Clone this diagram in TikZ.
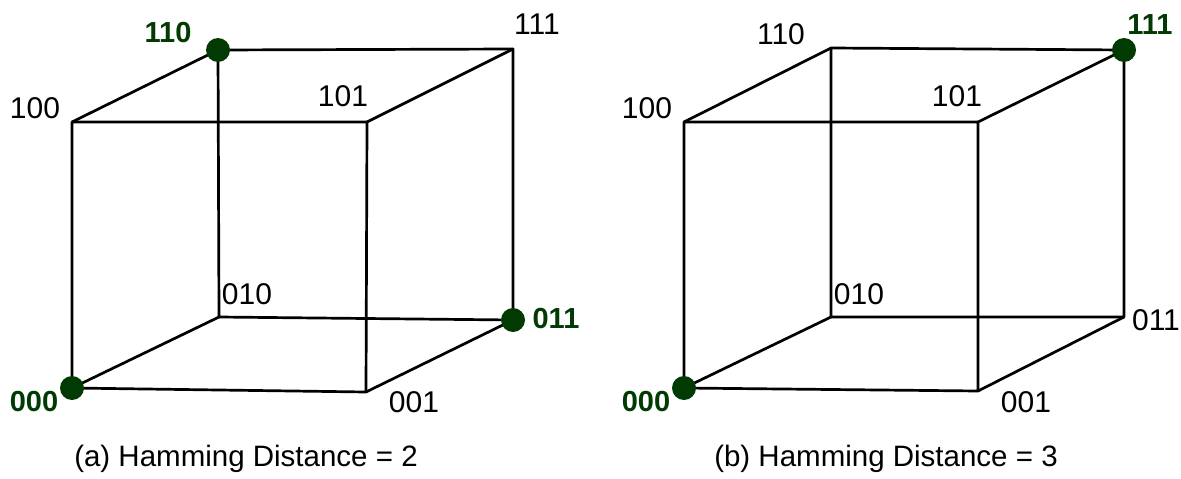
\documentclass[tikz,border=0pt]{standalone}
\usepackage{fontspec}
\setmainfont{Liberation Sans}
\definecolor{dkgreen}{RGB}{2,58,4}
\begin{document}
\begin{tikzpicture}[x=1pt,y=-1pt,
  edge/.style={line width=2.7pt,black},
  dot/.style={circle,fill=dkgreen,inner sep=0pt,minimum size=24pt},
  lab/.style={font=\fontsize{30}{34}\selectfont,inner sep=0pt},
  hlab/.style={font=\fontsize{29}{34}\selectfont\bfseries,text=dkgreen,inner sep=0pt},
  captext/.style={font=\fontsize{29.5}{34}\selectfont,inner sep=0pt}]
\useasboundingbox (0,0) rectangle (1181,479);
% left cube corners
\coordinate (La) at (72,388);   % 000
\coordinate (Lb) at (72,122);   % 100
\coordinate (Lc) at (367,122);  % 101
\coordinate (Ld) at (366,392);  % 001
\coordinate (Le) at (218,50);   % 110
\coordinate (Lf) at (513,49);   % 111
\coordinate (Lg) at (219,317);  % 010
\coordinate (Lh) at (513,320);  % 011
% right cube corners
\coordinate (Ra) at (684,388);
\coordinate (Rb) at (684,122);
\coordinate (Rc) at (978,122);
\coordinate (Rd) at (978,391);
\coordinate (Re) at (831,48);
\coordinate (Rf) at (1124,50);
\coordinate (Rg) at (831,317);
\coordinate (Rh) at (1124,317);
\foreach \p in {L,R}{
  \draw[edge,line join=round] (\p a) -- (\p b) -- (\p c) -- (\p d) -- cycle;
  \draw[edge,line join=round] (\p g) -- (\p e) -- (\p f) -- (\p h) -- cycle;
  \draw[edge] (\p a) -- (\p g);
  \draw[edge] (\p b) -- (\p e);
  \draw[edge] (\p c) -- (\p f);
  \draw[edge] (\p d) -- (\p h);
}
% dots
\node[dot] (La0) at (La) {};
\node[dot] (Le0) at (Le) {};
\node[dot] (Lh0) at (Lh) {};
\node[dot] (Ra0) at (Ra) {};
\node[dot] (Rf0) at (Rf) {};
% left labels
\node[hlab] (tLe) at (168,33) {110};
\node[lab] (tLb) at (35,108) {100};
\node[lab] (tLc) at (343,96) {101};
\node[lab] (tLf) at (537,24) {111};
\node[lab] (tLg) at (247,294) {010};
\node[hlab] (tLh) at (556,319) {011};
\node[lab] (tLd) at (414,402) {001};
\node[hlab] (tLa) at (34,402) {000};
% right labels
\node[lab] (tRe) at (781,34) {110};
\node[lab] (tRb) at (647,108) {100};
\node[lab] (tRc) at (957,96) {101};
\node[hlab] (tRf) at (1150,25) {111};
\node[lab] (tRg) at (859,294) {010};
\node[lab] (tRh) at (1156,320) {011};
\node[lab] (tRd) at (1026,402) {001};
\node[hlab] (tRa) at (646,402) {000};
% captions
\node[captext] (capa) at (246,459) {(a) Hamming Distance = 2};
\node[captext] (capb) at (886,459) {(b) Hamming Distance = 3};
\end{tikzpicture}
\end{document}
